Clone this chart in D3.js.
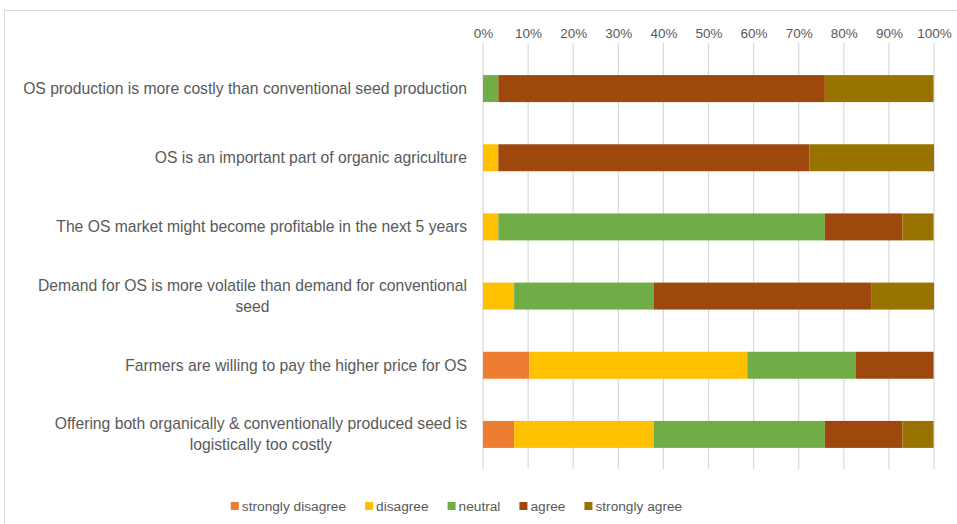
<!DOCTYPE html>
<html>
<head>
<meta charset="utf-8">
<script src="https://cdn.jsdelivr.net/npm/d3@7"></script>
<style>
  body { margin: 0; background: #fff; }
  svg { display: block; font-family: "Liberation Sans", Arial, sans-serif; }
</style>
</head>
<body>
<div id="plot"></div>
<script>
// statements, top to bottom (each label split into its display lines)
const statements = [
  ["OS production is more costly than conventional seed production"],
  ["OS is an important part of organic agriculture"],
  ["The OS market might become profitable in the next 5 years"],
  ["Demand for OS is more volatile than demand for conventional", "seed"],
  ["Farmers are willing to pay the higher price for OS"],
  ["Offering both organically & conventionally produced seed is", "logistically too costly"]
];

// answer categories and their colours
const answers = ["strongly disagree", "disagree", "neutral", "agree", "strongly agree"];
const colors = ["#ED7D31", "#FFC000", "#70AD47", "#9E480E", "#997300"];

// share of answers per statement (%)
const stronglyDisagree = [0, 0, 0, 0, 10.3, 6.9];
const disagree         = [0, 3.4, 3.4, 6.9, 48.3, 31.0];
const neutral          = [3.4, 0, 72.4, 31.0, 24.1, 37.9];
const agree            = [72.4, 69.0, 17.2, 48.3, 17.2, 17.2];
const stronglyAgree    = [24.1, 27.6, 6.9, 13.8, 0, 6.9];

const ticks = [0, 10, 20, 30, 40, 50, 60, 70, 80, 90, 100];

const width = 957, height = 524;
const svg = d3.select("#plot").append("svg")
  .attr("width", width)
  .attr("height", height);

// chart frame (runs off the right and bottom edge)
svg.append("rect")
  .attr("x", 4.5).attr("y", 10.5)
  .attr("width", 1000).attr("height", 600)
  .attr("fill", "none")
  .attr("stroke", "#d9d9d9");

const x = d3.scaleLinear([0, 100], [483, 934]);
const y = d3.scaleBand(d3.range(statements.length), [54, 469]).paddingInner(0.61).paddingOuter(0.305);

// gridlines
svg.append("g")
  .selectAll("line")
  .data(ticks)
  .join("line")
    .attr("x1", d => x(d)).attr("x2", d => x(d))
    .attr("y1", 43).attr("y2", 469)
    .attr("stroke", "#d9d9d9")
    .attr("stroke-width", 1.2);

// top axis labels
const xAxis = d3.axisTop(x).tickValues(ticks).tickFormat(d => d + "%").tickSize(0).tickPadding(0);
const xG = svg.append("g")
  .attr("transform", "translate(0, 38)")
  .call(xAxis);
xG.select(".domain").remove();
xG.selectAll("text")
  .attr("fill", "#595959")
  .style("font-size", "13.5px")
  .style("font-family", "Liberation Sans, Arial, sans-serif");

// stacked bars
const table = statements.map((s, i) => ({
  "strongly disagree": stronglyDisagree[i],
  "disagree": disagree[i],
  "neutral": neutral[i],
  "agree": agree[i],
  "strongly agree": stronglyAgree[i],
  idx: i
}));
const series = d3.stack().keys(answers)(table);
const color = d3.scaleOrdinal(answers, colors);

svg.append("g")
  .selectAll("g")
  .data(series)
  .join("g")
    .attr("fill", d => color(d.key))
  .selectAll("rect")
  .data(d => d.filter(p => p[1] > p[0]))
  .join("rect")
    .attr("x", d => x(d[0]))
    .attr("width", d => x(d[1]) - x(d[0]))
    .attr("y", d => y(d.data.idx))
    .attr("height", y.bandwidth());

// category labels, right aligned block, lines centred within block
const labelRight = 467;
const lineH = 21;
statements.forEach((lines, i) => {
  const cy = y(i) + y.bandwidth() / 2;
  const g = svg.append("g");
  const texts = g.selectAll("text")
    .data(lines)
    .join("text")
      .attr("fill", "#595959")
      .style("font-size", "15.7px")
      .attr("text-anchor", "middle")
      .attr("dy", "0.35em")
      .attr("y", (d, j) => cy + (j - (lines.length - 1) / 2) * lineH)
      .text(d => d);
  let maxW = 0;
  texts.each(function() { maxW = Math.max(maxW, this.getComputedTextLength()); });
  texts.attr("x", labelRight - maxW / 2);
});

// legend
const legend = svg.append("g");
const items = legend.selectAll("g")
  .data(answers)
  .join("g");
items.append("rect")
  .attr("width", 8).attr("height", 8)
  .attr("y", -4)
  .attr("fill", d => color(d));
items.append("text")
  .attr("x", 11)
  .attr("dy", "0.35em")
  .attr("fill", "#595959")
  .style("font-size", "13.7px")
  .text(d => d);
let cursor = 0;
const offsets = [];
items.each(function() {
  offsets.push(cursor);
  cursor += 11 + this.querySelector("text").getComputedTextLength() + 19;
});
const total = cursor - 19;
const start = 456.5 - total / 2;
items.attr("transform", (d, i) => `translate(${start + offsets[i]}, 506)`);
</script>
</body>
</html>
